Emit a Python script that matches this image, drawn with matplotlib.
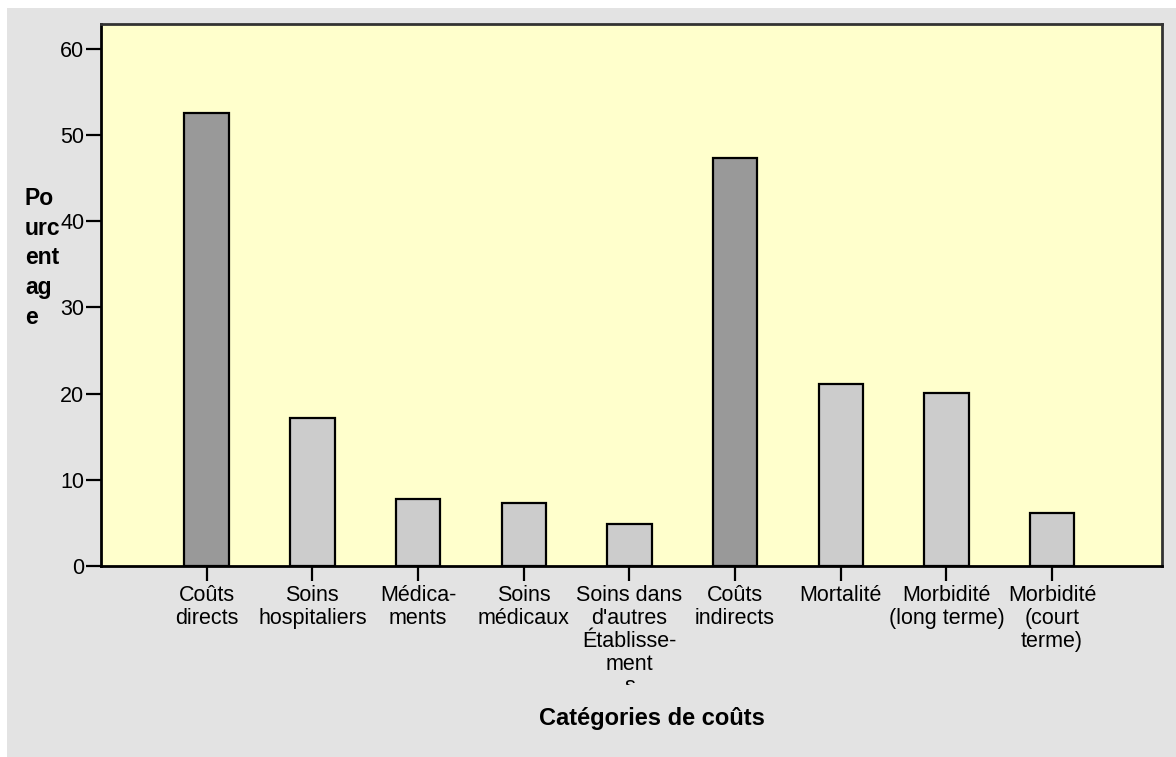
import matplotlib
matplotlib.use("Agg")
import matplotlib.pyplot as plt
from matplotlib.patches import Rectangle
from matplotlib.transforms import Bbox

plt.rcParams['font.family'] = ['Liberation Sans', 'DejaVu Sans']

categories = ["Coûts\ndirects", "Soins\nhospitaliers", "Médica-\nments", "Soins\nmédicaux",
              "Soins dans\nd'autres\nÉtablisse-\nment\ns", "Coûts\nindirects", "Mortalité",
              "Morbidité\n(long terme)", "Morbidité\n(court\nterme)"]
values = [52.6, 17.2, 7.8, 7.3, 4.9, 47.3, 21.1, 20.1, 6.1]
is_total = [True, False, False, False, False, True, False, False, False]
yticks = [0, 10, 20, 30, 40, 50, 60]

W, H = 1176, 757
fig = plt.figure(figsize=(W / 100, H / 100), dpi=100, facecolor='white')
fig.patches.append(Rectangle((7 / W, 0), 1 - 7 / W, 749 / H, transform=fig.transFigure,
                             facecolor='#E3E3E3', edgecolor='none', zorder=-5))

ax = fig.add_axes([101 / W, 1 - 566 / H, (1162 - 101) / W, (566 - 24) / H])
ax.set_zorder(2)
ax.set_facecolor('#FFFFCC')
x = list(range(1, len(values) + 1))
colors = ['#999999' if t else '#CCCCCC' for t in is_total]
ax.bar(x, values, width=0.42, color=colors, edgecolor='black', linewidth=1.6, zorder=3)
ax.set_xlim(0, 10.04)
ax.set_ylim(0, 62.9)
ax.set_yticks(yticks)
ax.set_xticks(x)
ax.set_xticklabels(categories, fontsize=15.5, linespacing=1.12)
ax.tick_params(axis='both', length=11, width=1.6, labelsize=15.5, color='black')
ax.tick_params(axis='x', pad=2.5)
ax.tick_params(axis='y', pad=1)
for s in ax.spines.values():
    s.set_linewidth(2.0)
ax.spines['top'].set_color('#333333')
ax.spines['right'].set_color('#333333')

# clip the tick labels at the bottom like the original
clip = Bbox.from_extents(0, H - 685, W, H)
for lab in ax.get_xticklabels():
    lab.set_clip_box(clip)
    lab.set_clip_on(True)

fig.text(25 / W, 1 - 258 / H, "Po\nurc\nent\nag\ne", fontsize=16.5, fontweight='bold',
         ha='left', va='center', multialignment='left', linespacing=1.38, zorder=3)
fig.text(652 / W, 1 - 719 / H, "Catégories de coûts", fontsize=17, fontweight='bold',
         ha='center', va='center', zorder=3)

fig.savefig("out.png", dpi=100, facecolor='white')
